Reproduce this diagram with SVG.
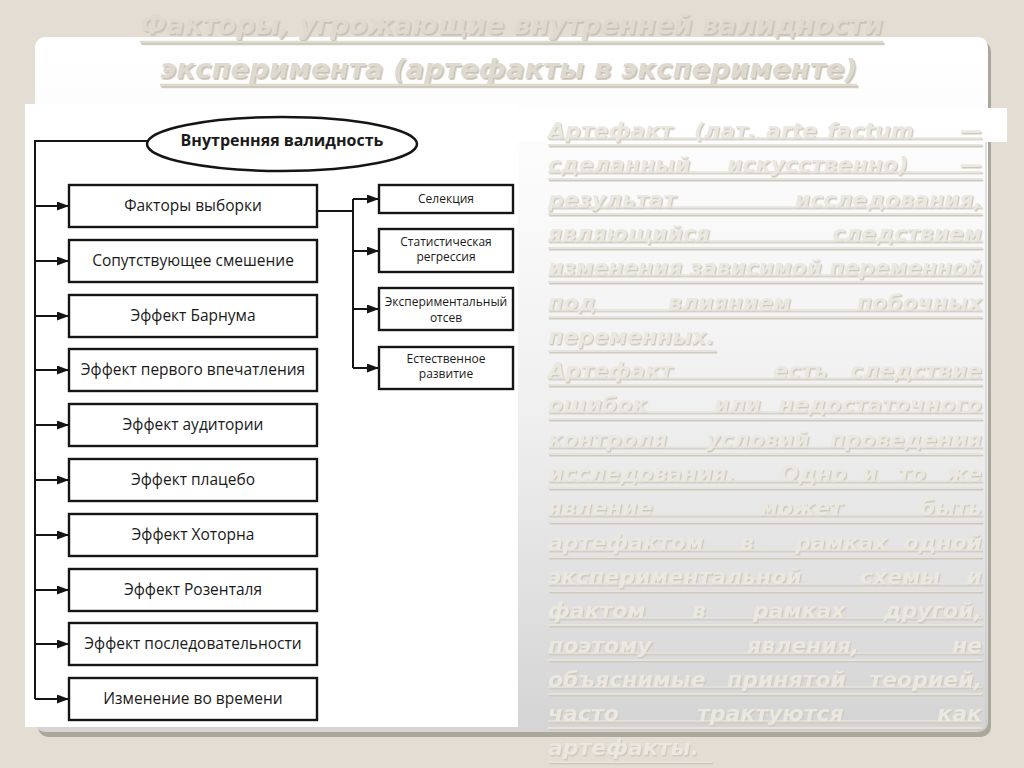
<svg xmlns="http://www.w3.org/2000/svg" width="1024" height="768" viewBox="0 0 1024 768">
<defs>
<linearGradient id="pg" x1="0" y1="0" x2="0" y2="1">
<stop offset="0" stop-color="#ffffff"/>
<stop offset="0.2" stop-color="#fbfbfb"/>
<stop offset="0.55" stop-color="#efefef"/>
<stop offset="1" stop-color="#d4d4d4"/>
</linearGradient>
<filter id="sh" x="-5%" y="-20%" width="110%" height="140%">
<feDropShadow dx="1.2" dy="1.5" stdDeviation="0.4" flood-color="#cfc9bd" flood-opacity="1"/>
</filter>
<filter id="sht" x="-5%" y="-20%" width="110%" height="140%">
<feDropShadow dx="1.5" dy="1.8" stdDeviation="0.5" flood-color="#c9c2b5" flood-opacity="1"/>
</filter>
<marker id="ah" markerWidth="12" markerHeight="9" refX="12" refY="4.5" orient="auto" markerUnits="userSpaceOnUse">
<path d="M0,0 L12,4.5 L0,9 z" fill="#151515"/>
</marker>
</defs>
<style>
.bx{fill:#fff;stroke:#151515;stroke-width:2.4}
.lb{font-family:"Open Sans","Liberation Sans",sans-serif;font-size:15.5px;fill:#1a1a1a;text-anchor:middle}
.sm{font-size:12px}
.cn{fill:none;stroke:#151515;stroke-width:2}
.rt{font-family:"DejaVu Sans","Liberation Sans",sans-serif;font-weight:bold;font-style:italic;font-size:22px;fill:#ebe8e1}
.tt{font-family:"DejaVu Sans","Liberation Sans",sans-serif;font-weight:bold;font-style:italic;font-size:27px;fill:#dfdad0}
.ul{stroke:#e6e3dc;stroke-width:2}
.gl{stroke:#e6e3dc;stroke-width:1.5}
.e{text-anchor:end}
</style>
<rect width="1024" height="768" fill="#e4ddd3"/>
<rect x="38" y="41" width="953" height="696" rx="10" fill="#aaa79b"/>
<rect x="35" y="37" width="953" height="695" rx="10" fill="url(#pg)"/>
<rect x="518" y="108" width="489" height="34" fill="#ffffff"/>
<line x1="986" y1="142" x2="986" y2="728" stroke="#c8c8c8" stroke-width="1"/>
<rect x="25" y="104" width="493" height="623" fill="#ffffff"/>

<g id="title" filter="url(#sht)">
<line x1="140" y1="42" x2="883" y2="42" stroke="#dfdad0" stroke-width="2.5"/>
<line x1="160" y1="85" x2="857" y2="85" stroke="#dfdad0" stroke-width="2.5"/>
<text class="tt" x="140" y="34" textLength="743" lengthAdjust="spacingAndGlyphs">Факторы, угрожающие внутренней валидности</text>
<text class="tt" x="160" y="78" textLength="697" lengthAdjust="spacingAndGlyphs">эксперимента (артефакты в эксперименте)</text>
</g>

<g id="connectors">
<path class="cn" d="M148,141 H35 V699"/>
<path class="cn" d="M35,206 H69" marker-end="url(#ah)"/>
<path class="cn" d="M35,261 H69" marker-end="url(#ah)"/>
<path class="cn" d="M35,316 H69" marker-end="url(#ah)"/>
<path class="cn" d="M35,370 H69" marker-end="url(#ah)"/>
<path class="cn" d="M35,425 H69" marker-end="url(#ah)"/>
<path class="cn" d="M35,480 H69" marker-end="url(#ah)"/>
<path class="cn" d="M35,535 H69" marker-end="url(#ah)"/>
<path class="cn" d="M35,590 H69" marker-end="url(#ah)"/>
<path class="cn" d="M35,644 H69" marker-end="url(#ah)"/>
<path class="cn" d="M35,699 H69" marker-end="url(#ah)"/>
<path class="cn" d="M317,211 H353"/>
<path class="cn" d="M353,199 V368"/>
<path class="cn" d="M353,199 H379" marker-end="url(#ah)"/>
<path class="cn" d="M353,251 H379" marker-end="url(#ah)"/>
<path class="cn" d="M353,309 H379" marker-end="url(#ah)"/>
<path class="cn" d="M353,368 H379" marker-end="url(#ah)"/>
</g>

<g id="n-root">
<ellipse cx="282" cy="144" rx="135" ry="27" fill="#fff" stroke="#151515" stroke-width="2.5"/>
<text class="lb" x="282" y="146" style="font-weight:bold;font-size:16px">Внутренняя валидность</text>
</g>
<g id="n1"><rect class="bx" x="69" y="185" width="248" height="42"/><text class="lb" x="193" y="211">Факторы выборки</text></g>
<g id="n2"><rect class="bx" x="69" y="240" width="248" height="42"/><text class="lb" x="193" y="266">Сопутствующее смешение</text></g>
<g id="n3"><rect class="bx" x="69" y="295" width="248" height="42"/><text class="lb" x="193" y="321">Эффект Барнума</text></g>
<g id="n4"><rect class="bx" x="69" y="349" width="248" height="42"/><text class="lb" x="193" y="375">Эффект первого впечатления</text></g>
<g id="n5"><rect class="bx" x="69" y="404" width="248" height="42"/><text class="lb" x="193" y="430">Эффект аудитории</text></g>
<g id="n6"><rect class="bx" x="69" y="459" width="248" height="42"/><text class="lb" x="193" y="485">Эффект плацебо</text></g>
<g id="n7"><rect class="bx" x="69" y="514" width="248" height="42"/><text class="lb" x="193" y="540">Эффект Хоторна</text></g>
<g id="n8"><rect class="bx" x="69" y="569" width="248" height="42"/><text class="lb" x="193" y="595">Эффект Розенталя</text></g>
<g id="n9"><rect class="bx" x="69" y="623" width="248" height="42"/><text class="lb" x="193" y="649">Эффект последовательности</text></g>
<g id="n10"><rect class="bx" x="69" y="678" width="248" height="42"/><text class="lb" x="193" y="704">Изменение во времени</text></g>

<g id="r1"><rect class="bx" x="379" y="185" width="134" height="28"/><text class="lb sm" x="446" y="203">Селекция</text></g>
<g id="r2"><rect class="bx" x="379" y="229" width="134" height="43"/><text class="lb sm" x="446" y="246">Статистическая</text><text class="lb sm" x="446" y="261">регрессия</text></g>
<g id="r3"><rect class="bx" x="379" y="288" width="134" height="42"/><text class="lb sm" x="446" y="306">Экспериментальный</text><text class="lb sm" x="446" y="322">отсев</text></g>
<g id="r4"><rect class="bx" x="379" y="347" width="134" height="42"/><text class="lb sm" x="446" y="363">Естественное</text><text class="lb sm" x="446" y="378">развитие</text></g>

<g id="definition" filter="url(#sh)">
<g>
<line class="gl" x1="548" y1="138" x2="982" y2="138"/><line class="ul" x1="548" y1="145" x2="982" y2="145"/>
<line class="gl" x1="548" y1="172" x2="982" y2="172"/><line class="ul" x1="548" y1="179" x2="982" y2="179"/>
<line class="gl" x1="548" y1="207" x2="982" y2="207"/><line class="ul" x1="548" y1="214" x2="982" y2="214"/>
<line class="gl" x1="548" y1="241" x2="982" y2="241"/><line class="ul" x1="548" y1="248" x2="982" y2="248"/>
<line class="gl" x1="548" y1="275" x2="982" y2="275"/><line class="ul" x1="548" y1="282" x2="982" y2="282"/>
<line class="gl" x1="548" y1="310" x2="982" y2="310"/><line class="ul" x1="548" y1="317" x2="982" y2="317"/>
<line class="ul" x1="548" y1="351" x2="716" y2="351"/>
<line class="gl" x1="548" y1="378" x2="982" y2="378"/><line class="ul" x1="548" y1="385" x2="982" y2="385"/>
<line class="gl" x1="548" y1="412" x2="982" y2="412"/><line class="ul" x1="548" y1="419" x2="982" y2="419"/>
<line class="gl" x1="548" y1="447" x2="982" y2="447"/><line class="ul" x1="548" y1="454" x2="982" y2="454"/>
<line class="gl" x1="548" y1="481" x2="982" y2="481"/><line class="ul" x1="548" y1="488" x2="982" y2="488"/>
<line class="gl" x1="548" y1="515" x2="982" y2="515"/><line class="ul" x1="548" y1="522" x2="982" y2="522"/>
<line class="gl" x1="548" y1="550" x2="982" y2="550"/><line class="ul" x1="548" y1="557" x2="982" y2="557"/>
<line class="gl" x1="548" y1="584" x2="982" y2="584"/><line class="ul" x1="548" y1="591" x2="982" y2="591"/>
<line class="gl" x1="548" y1="618" x2="982" y2="618"/><line class="ul" x1="548" y1="625" x2="982" y2="625"/>
<line class="gl" x1="548" y1="653" x2="982" y2="653"/><line class="ul" x1="548" y1="660" x2="982" y2="660"/>
<line class="gl" x1="548" y1="687" x2="982" y2="687"/><line class="ul" x1="548" y1="694" x2="982" y2="694"/>
<line class="gl" x1="548" y1="721" x2="982" y2="721"/><line class="ul" x1="548" y1="728" x2="982" y2="728"/>
<line class="ul" x1="548" y1="762" x2="712" y2="762"/>
</g>
<text class="rt" y="138"><tspan x="548">Артефакт</tspan><tspan x="694">(лат.</tspan><tspan x="766">arte</tspan><tspan x="827">factum</tspan><tspan class="e" x="982">—</tspan></text>
<text class="rt" y="172"><tspan x="548">сделанный</tspan><tspan x="727">искусственно)</tspan><tspan class="e" x="982">—</tspan></text>
<text class="rt" y="207"><tspan x="548">результат</tspan><tspan class="e" x="982">исследования,</tspan></text>
<text class="rt" y="241"><tspan x="548">являющийся</tspan><tspan class="e" x="982">следствием</tspan></text>
<text class="rt" x="548" y="275" textLength="434" lengthAdjust="spacing">изменения зависимой переменной</text>
<text class="rt" y="310"><tspan x="548">под</tspan><tspan x="668">влиянием</tspan><tspan class="e" x="982">побочных</tspan></text>
<text class="rt" x="548" y="344">переменных.</text>
<text class="rt" y="378"><tspan x="548">Артефакт</tspan><tspan x="773">есть</tspan><tspan class="e" x="982">следствие</tspan></text>
<text class="rt" y="412"><tspan x="548">ошибок</tspan><tspan x="714">или</tspan><tspan class="e" x="982">недостаточного</tspan></text>
<text class="rt" y="447"><tspan x="548">контроля</tspan><tspan x="706">условий</tspan><tspan class="e" x="982">проведения</tspan></text>
<text class="rt" y="481"><tspan x="548">исследования.</tspan><tspan x="780">Одно</tspan><tspan x="862">и</tspan><tspan x="898">то</tspan><tspan class="e" x="982">же</tspan></text>
<text class="rt" y="515"><tspan x="548">явление</tspan><tspan x="760">может</tspan><tspan class="e" x="982">быть</tspan></text>
<text class="rt" y="550"><tspan x="548">артефактом</tspan><tspan x="740">в</tspan><tspan x="795">рамках</tspan><tspan class="e" x="982">одной</tspan></text>
<text class="rt" y="584"><tspan x="548">экспериментальной</tspan><tspan x="860">схемы</tspan><tspan class="e" x="982">и</tspan></text>
<text class="rt" y="618"><tspan x="548">фактом</tspan><tspan x="692">в</tspan><tspan x="753">рамках</tspan><tspan class="e" x="982">другой,</tspan></text>
<text class="rt" y="653"><tspan x="548">поэтому</tspan><tspan x="747">явления,</tspan><tspan class="e" x="982">не</tspan></text>
<text class="rt" y="687"><tspan x="548">объяснимые</tspan><tspan x="727">принятой</tspan><tspan class="e" x="982">теорией,</tspan></text>
<text class="rt" y="721"><tspan x="548">часто</tspan><tspan x="697">трактуются</tspan><tspan class="e" x="982">как</tspan></text>
<text class="rt" x="548" y="755">артефакты.</text>
</g>
</svg>
